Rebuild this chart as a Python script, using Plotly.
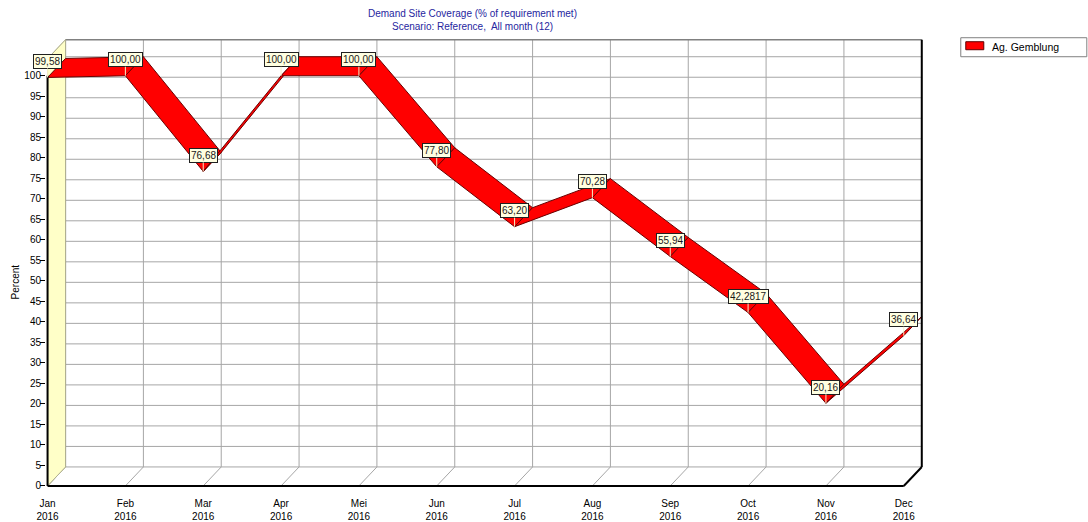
import plotly.graph_objects as go

# ---------------- data ----------------
months = ["Jan", "Feb", "Mar", "Apr", "Mei", "Jun", "Jul", "Aug", "Sep", "Oct", "Nov", "Dec"]
years = ["2016"] * 12
coverage = [99.58, 100.00, 76.68, 100.00, 100.00, 77.80, 63.20, 70.28, 55.94, 42.2817, 20.16, 36.64]
value_labels = ["99,58", "100,00", "76,68", "100,00", "100,00", "77,80", "63,20", "70,28",
                "55,94", "42,2817", "20,16", "36,64"]
series_name = "Ag. Gemblung"
y_ticks = list(range(0, 101, 5))

# ---------------- geometry / style ----------------
W_FIG, H_FIG = 1088, 522
FONT = "Liberation Sans"
X_RANGE = [-0.02, 11.26]
Y_RANGE = [-0.5, 109.2]
PX_PER_X = (904 - 48) / 11.0
PX_PER_Y = (486 - 76) / 100.0
X0_PX, Y0_PX = 48, 486          # pixel of (0, 0)
DX = 18 / PX_PER_X              # depth offset in data units
DY = 19 / PX_PER_Y
TOP = (486 - 40) / PX_PER_Y     # top of back wall

ml = X0_PX + X_RANGE[0] * PX_PER_X
right_px = X0_PX + X_RANGE[1] * PX_PER_X
mr = W_FIG - right_px
bottom_px = Y0_PX - Y_RANGE[0] * PX_PER_Y
mb = H_FIG - bottom_px
top_px = Y0_PX - Y_RANGE[1] * PX_PER_Y
mt = top_px
PW = right_px - ml
PH = bottom_px - top_px


def px2paper(px, py):
    return (px - ml) / PW, (bottom_px - py) / PH


xs = list(range(len(months)))
n = len(xs)
xmax = xs[-1]

fig = go.Figure()
shapes = []
GRID = "#a6a6a6"


def seg(x0, y0, x1, y1, color=GRID, width=1, layer="below"):
    shapes.append(dict(type="line", xref="x", yref="y", x0=x0, y0=y0, x1=x1, y1=y1,
                       line=dict(color=color, width=width), layer=layer))


# left wall (yellow)
fig.add_trace(go.Scatter(
    x=[0, DX, DX, 0, 0], y=[0, DY, TOP, TOP - DY, 0], mode="lines", fill="toself",
    fillcolor="#FFFFC8", line=dict(color="#b0b090", width=1), hoverinfo="skip", showlegend=False))

# back wall horizontal grid
for v in y_ticks:
    seg(DX, v + DY, xmax + DX, v + DY)
    seg(0, v, DX, v + DY, color="#b8b890")
# back wall verticals and floor diagonals
for x in xs:
    seg(x + DX, DY, x + DX, TOP)
    seg(x, 0, x + DX, DY)
# top edge
seg(DX, TOP, xmax + DX, TOP, color="#808080", width=1.5)
seg(0, TOP - DY, DX, TOP, color="#b0b090")
seg(DX, DY, DX, TOP, color="#707070", width=1)

# ribbon segments
for i in range(n - 1):
    xa, xb = xs[i], xs[i + 1]
    va, vb = coverage[i], coverage[i + 1]
    fig.add_trace(go.Scatter(
        x=[xa, xb, xb + DX, xa + DX, xa], y=[va, vb, vb + DY, va + DY, va],
        mode="lines", fill="toself", fillcolor="#FF0000",
        line=dict(color="#6a0000", width=1), hoverinfo="skip", showlegend=False,
        name=series_name))

# frame lines (front axes, right edges)
frame = []
frame.append(dict(x0=0, y0=0, x1=xmax, y1=0))
frame.append(dict(x0=0, y0=0, x1=0, y1=100))
frame.append(dict(x0=xmax, y0=0, x1=xmax + DX, y1=DY))
frame.append(dict(x0=xmax + DX, y0=DY, x1=xmax + DX, y1=TOP))
for f in frame:
    shapes.append(dict(type="line", xref="x", yref="y", **f,
                       line=dict(color="#000000", width=2), layer="above"))

# value labels
annotations = []
for x, v, t in zip(xs, coverage, value_labels):
    annotations.append(dict(
        x=x, y=v, xref="x", yref="y", text=t, showarrow=True, arrowhead=0,
        arrowwidth=1, arrowcolor="#f4efc8", ax=0, ay=-16,
        bgcolor="#FFFFE1", bordercolor="#202020", borderwidth=1, borderpad=1,
        font=dict(family=FONT, size=10, color="#1a1a1a")))

# title
for line, py in [("Demand Site Coverage (% of requirement met)", 14),
                 ("Scenario: Reference,  All month (12)", 27)]:
    px_, py_ = px2paper(473, py)
    annotations.append(dict(x=px_, y=py_, xref="paper", yref="paper", text=line,
                            showarrow=False, xanchor="center", yanchor="middle",
                            font=dict(family=FONT, size=10, color="#2626a0")))

# y axis title
px_, py_ = px2paper(16, 282)
annotations.append(dict(x=px_, y=py_, xref="paper", yref="paper", text="Percent",
                        textangle=-90, showarrow=False, xanchor="center", yanchor="middle",
                        font=dict(family=FONT, size=10, color="#000000")))

# legend box (manual)
lx0, ly0 = px2paper(961, 38)
lx1, ly1 = px2paper(1087, 57)
shapes.append(dict(type="rect", xref="paper", yref="paper", x0=lx0, y0=ly1, x1=lx1, y1=ly0,
                   line=dict(color="#808080", width=1), fillcolor="#ffffff", layer="above"))
sx0, sy0 = px2paper(966, 42)
sx1, sy1 = px2paper(984, 50)
shapes.append(dict(type="rect", xref="paper", yref="paper", x0=sx0, y0=sy1, x1=sx1, y1=sy0,
                   line=dict(color="#600000", width=1), fillcolor="#FF0000", layer="above"))
tx_, ty_ = px2paper(990, 47)
annotations.append(dict(x=tx_, y=ty_, xref="paper", yref="paper", text=series_name,
                        showarrow=False, xanchor="left", yanchor="middle",
                        font=dict(family=FONT, size=10.5, color="#000000")))

fig.update_layout(
    width=W_FIG, height=H_FIG,
    margin=dict(l=ml, r=mr, t=mt, b=mb, pad=0, autoexpand=False),
    paper_bgcolor="#ffffff", plot_bgcolor="#ffffff",
    showlegend=False,
    shapes=shapes, annotations=annotations,
    xaxis=dict(range=X_RANGE, tickmode="array", tickvals=xs,
               ticktext=[f"{m}<br>{y}" for m, y in zip(months, years)],
               showgrid=False, zeroline=False, showline=False, ticks="",
               automargin=False, ticklabelstandoff=8,
               tickfont=dict(family=FONT, size=10, color="#000000"), fixedrange=True),
    yaxis=dict(range=Y_RANGE, tickmode="array", tickvals=y_ticks,
               ticktext=[str(v) for v in y_ticks],
               showgrid=False, zeroline=False, showline=False, ticks="outside",
               ticklen=5, tickcolor="#000000", tickwidth=1,
               automargin=False, ticklabelstandoff=-3,
               tickfont=dict(family=FONT, size=10, color="#000000"), fixedrange=True),
)

fig.write_html("out.html", config={"displayModeBar": False},
               post_script="document.body.style.margin='0';document.body.style.overflow='hidden';")
